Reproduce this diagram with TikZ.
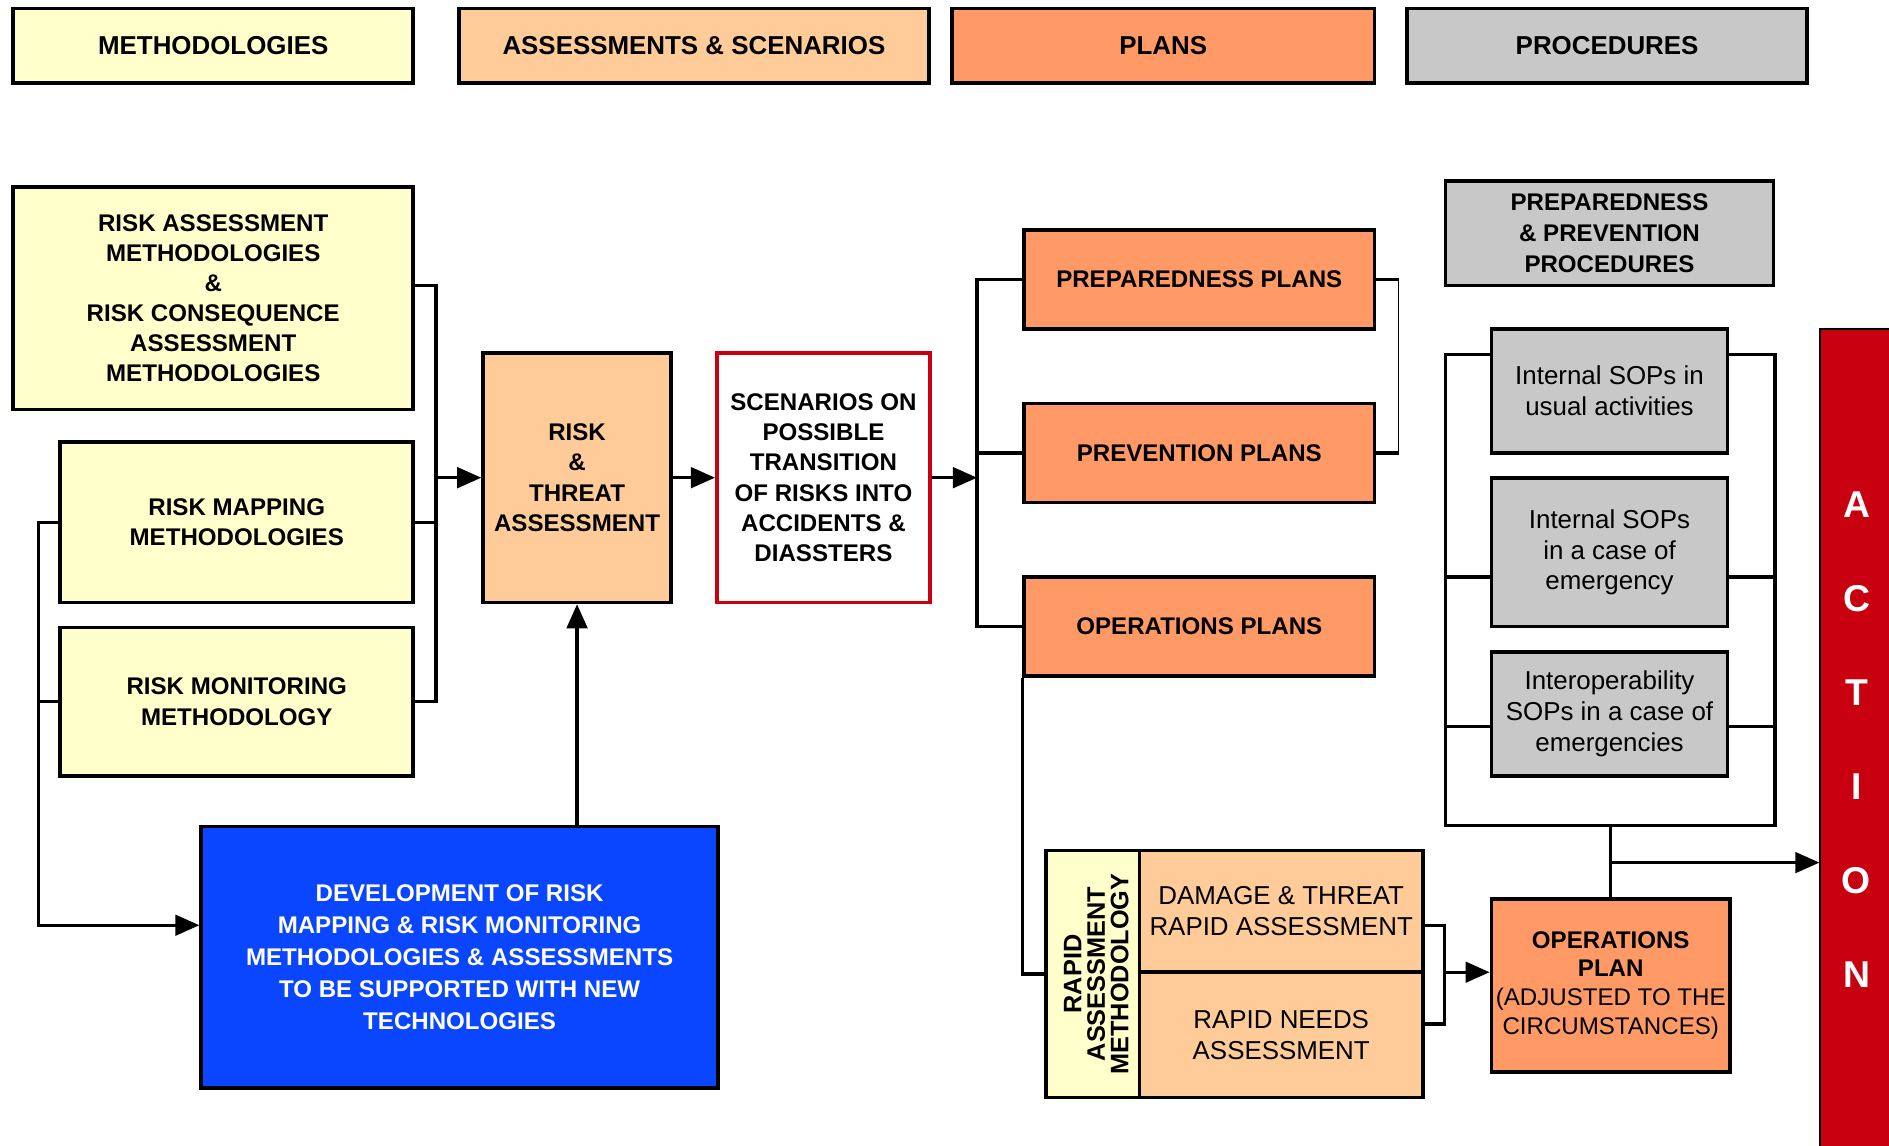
\documentclass[tikz,border=0pt]{standalone}
\usepackage{fontspec}
\setmainfont{Liberation Sans}
\usetikzlibrary{arrows.meta}

\definecolor{methyellow}{RGB}{255,255,204}
\definecolor{assessorange}{RGB}{255,204,153}
\definecolor{planorange}{RGB}{255,153,102}
\definecolor{procgray}{RGB}{200,200,200}
\definecolor{devblue}{RGB}{10,70,255}
\definecolor{actionred}{RGB}{200,0,15}

\tikzset{every picture/.style={line width=2.8pt}}

\begin{document}
\begin{tikzpicture}[x=1pt,y=1pt,yscale=-1,xscale=1,
  box/.style={draw, line width=3pt, align=center, inner sep=0pt,
    font=\fontsize{20}{25}\selectfont\bfseries},
  plain/.style={font=\fontsize{21.5}{25.5}\selectfont},
  headbox/.style={font=\fontsize{21.5}{25}\selectfont\bfseries},
  methbox/.style={box, fill=methyellow},
  assessbox/.style={box, fill=assessorange},
  planbox/.style={box, fill=planorange},
  procbox/.style={box, fill=procgray},
  arr/.style={-{Triangle[length=20pt,width=17pt]}}]
\useasboundingbox (0,0) rectangle (1568,951);

% Legend
\node[methbox, headbox, minimum width=332, minimum height=62] (hdmeth) at (177,38) {METHODOLOGIES};
\node[assessbox, headbox, minimum width=390, minimum height=62] (hdassess) at (576,38) {ASSESSMENTS \& SCENARIOS};
\node[planbox, headbox, minimum width=351, minimum height=62] (hdplans) at (965.5,38) {PLANS};
\node[procbox, headbox, minimum width=332, minimum height=62] (hdproc) at (1334,38) {PROCEDURES};

% Methodologies
\node[methbox, minimum width=332, minimum height=185] (riskassess) at (177,247.5) {RISK ASSESSMENT\\METHODOLOGIES\\\&\\RISK CONSEQUENCE\\ASSESSMENT\\METHODOLOGIES};
\node[methbox, minimum width=293, minimum height=133] (riskmap) at (196.5,433.5) {RISK MAPPING\\METHODOLOGIES};
\node[methbox, minimum width=293, minimum height=123] (riskmon) at (196.5,582.5) {RISK MONITORING\\METHODOLOGY};

% Assessment and scenarios
\node[assessbox, minimum width=156, minimum height=207] (threat) at (479,396.5) {RISK\\\&\\THREAT\\ASSESSMENT};
\node[box, draw=actionred, fill=white, minimum width=177, minimum height=207] (scen) at (683.5,396.5) {SCENARIOS ON\\POSSIBLE\\TRANSITION\\OF RISKS INTO\\ACCIDENTS \&\\DIASSTERS};
\node[box, fill=devblue, text=white, minimum width=429, minimum height=217, font=\fontsize{20}{26.5}\selectfont\bfseries] (dev) at (381.5,794.5) {DEVELOPMENT OF RISK\\MAPPING \& RISK MONITORING\\METHODOLOGIES \& ASSESSMENTS\\TO BE SUPPORTED WITH NEW\\TECHNOLOGIES};

% Plans
\node[planbox, minimum width=291, minimum height=82] (prepplans) at (995.5,232) {PREPAREDNESS PLANS};
\node[planbox, minimum width=291, minimum height=82] (prevplans) at (995.5,376) {PREVENTION PLANS};
\node[planbox, minimum width=291, minimum height=82] (opsplans) at (995.5,520) {OPERATIONS PLANS};

% Rapid assessment
\node[methbox, minimum width=78, minimum height=205] (rapidmeth) at (907,808.5) {};
\node[rotate=90, align=center, inner sep=0pt, font=\fontsize{21}{19.5}\selectfont\bfseries] (rapidtext) at ([xshift=3pt]rapidmeth.center) {RAPID\\ASSESSMENT\\METHODOLOGY};
\node[assessbox, plain, minimum width=235, minimum height=101] (damage) at (1063.5,756.5) {DAMAGE \& THREAT\\RAPID ASSESSMENT};
\node[assessbox, plain, minimum width=235, minimum height=104] (needs) at (1063.5,859) {RAPID NEEDS\\ASSESSMENT};
\node[planbox, minimum width=198, minimum height=144, font=\fontsize{20}{24}\selectfont] (opsplan) at (1337,818) {\textbf{OPERATIONS}\\\textbf{PLAN}\\(ADJUSTED TO THE\\CIRCUMSTANCES)};

% Procedures
\node[procbox, minimum width=272, minimum height=87, font=\fontsize{20}{26}\selectfont\bfseries] (ppproc) at (1336,193.5) {PREPAREDNESS\\\& PREVENTION\\PROCEDURES};
\node[procbox, plain, minimum width=196, minimum height=103] (sopusual) at (1336,324.5) {Internal SOPs in\\usual activities};
\node[procbox, plain, minimum width=196, minimum height=123] (sopemerg) at (1336,458.5) {Internal SOPs\\in a case of\\emergency};
\node[procbox, plain, minimum width=196, minimum height=103] (sopinterop) at (1336,592.5) {Interoperability\\SOPs in a case of\\emergencies};

% Action
\node[box, fill=actionred, text=white, line width=1.5pt, minimum width=60, minimum height=682, font=\fontsize{31}{78}\selectfont\bfseries] (action) at (1541,614) {A\\C\\T\\I\\O\\N};

% Connector points
\coordinate (brtop) at (362,237);
\coordinate (lfeed) at (32,768);
\coordinate (plbr) at (811,397);
\coordinate (ppbr) at (1161,300);
\coordinate (rbrtop) at (1199,768);
\coordinate (rbrbot) at (1199,850);
\coordinate (rbrmid) at (1199,807);
\coordinate (sopa) at (1200,294);
\coordinate (sopb) at (1200,479);
\coordinate (sopc) at (1200,603);
\coordinate (sopbot) at (1200,685);
\coordinate (actarr) at (1337,716);

%Straight Lines
\draw (riskassess.east |- brtop) -- (brtop) -- (brtop |- riskmon.east) -- (riskmon.east);
\draw (riskmap.east) -- (riskmap.east -| brtop);
\draw [arr] (threat.west -| brtop) -- (threat.west);
\draw [arr] (riskmap.west) -| (lfeed) -- (lfeed -| dev.west);
\draw (riskmon.west) -- (riskmon.west -| lfeed);
\draw [arr] (dev.north -| threat.south) -- (threat.south);
\draw [arr] (threat.east) -- (scen.west);

%Straight Lines
\draw [arr] (scen.east) -- (scen.east -| plbr);
\draw (prepplans.west) -- (prepplans.west -| plbr) -- (plbr |- opsplans.west) -- (opsplans.west);
\draw (prevplans.west) -- (prevplans.west -| plbr);
\draw (prepplans.east) -- (prepplans.east -| ppbr);
\draw (prevplans.east) -- (prevplans.east -| ppbr);
\draw [line width=1.2pt] (prepplans.east -| ppbr) -- (prevplans.east -| ppbr);
\draw (opsplans.south west) |- (rapidmeth.west);

%Straight Lines
\draw (damage.east |- rbrtop) -- (rbrtop) -- (rbrbot) -- (needs.east |- rbrbot);
\draw [arr] (rbrmid) -- (rbrmid -| opsplan.west);
\draw (sopusual.west |- sopa) -- (sopa) -- (sopbot) -| (ppproc.east |- sopa) -- (sopusual.east |- sopa);
\draw (sopemerg.west |- sopb) -- (sopb);
\draw (sopemerg.east |- sopb) -- (ppproc.east |- sopb);
\draw (sopinterop.west |- sopc) -- (sopc);
\draw (sopinterop.east |- sopc) -- (ppproc.east |- sopc);
\draw (opsplan.north) -- (opsplan.north |- sopbot);
\draw [arr] (actarr) -- (actarr -| action.west);

\end{tikzpicture}
\end{document}
